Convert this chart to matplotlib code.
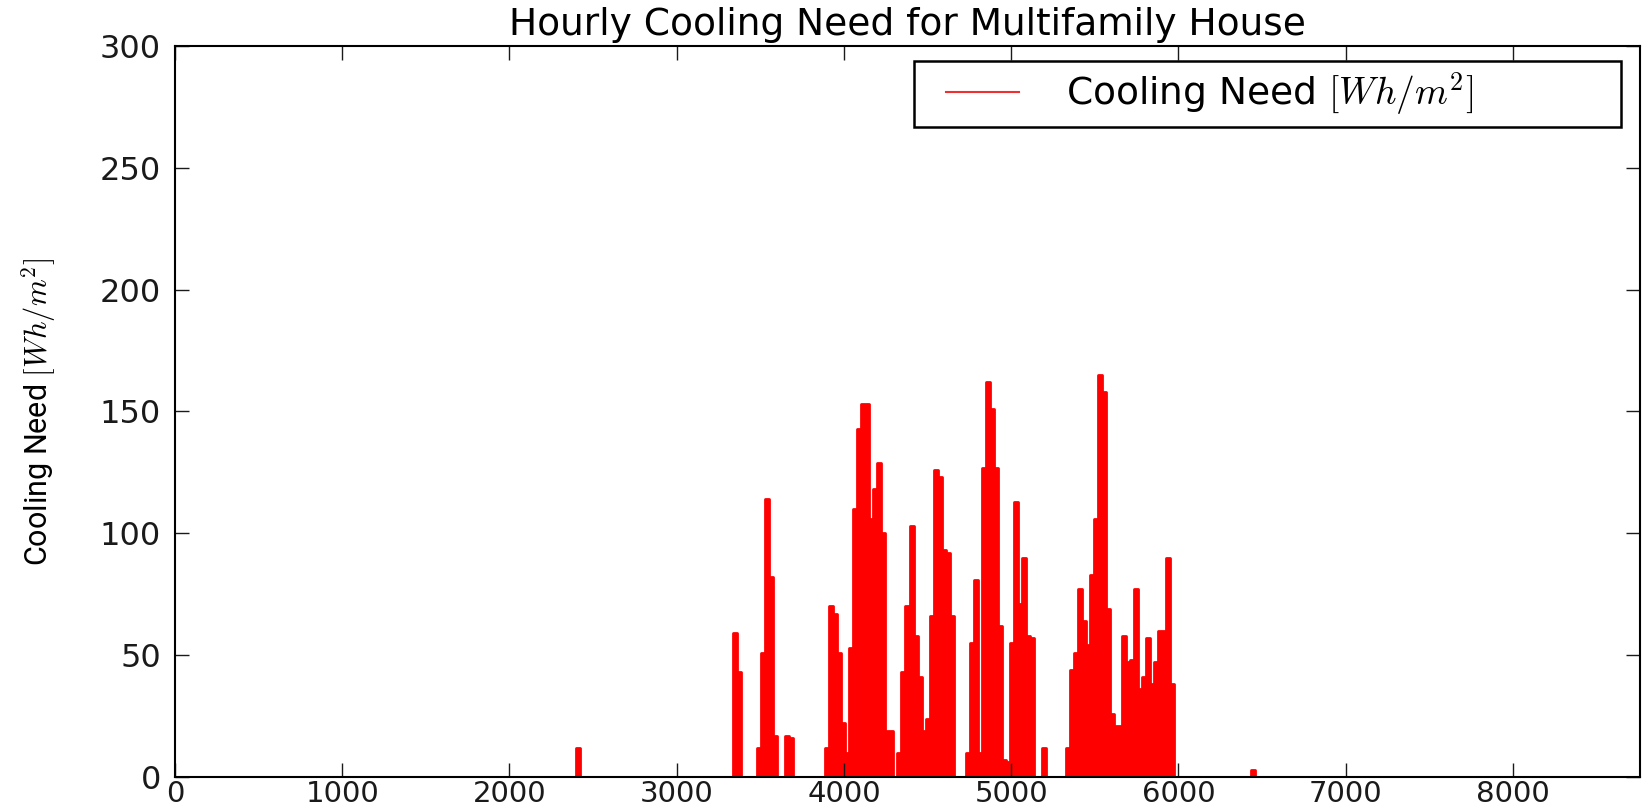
import numpy as np
import matplotlib
matplotlib.use('Agg')
import matplotlib.pyplot as plt
from matplotlib.patches import Rectangle

# daily peak cooling need (day of year -> Wh/m2)
active_days = [100,
               139, 140,
               145, 146, 147, 148, 149,
               152, 153,
               162, 163, 164, 165, 166, 167, 168, 169, 170, 171, 172, 173,
               174, 175, 176, 177, 178, 180, 181, 182, 183, 184, 185, 186,
               187, 188, 189, 190, 191, 192, 193,
               197, 198, 199, 200, 201, 202, 203, 204, 205, 206, 207, 208,
               209, 210, 211, 212, 213, 216,
               222, 223, 224, 225, 226, 227, 228, 229, 230, 231, 232, 233,
               234, 235, 236, 237, 238, 239, 240, 241, 242, 243, 244, 245,
               246, 247, 248,
               268]
peak_values = [12,
               59, 43,
               12, 51, 114, 82, 17,
               17, 16,
               12, 70, 67, 51, 22, 10, 53, 110, 143, 153, 153, 106,
               118, 129, 100, 19, 19, 10, 43, 70, 103, 58, 41, 19,
               24, 66, 126, 123, 93, 92, 66,
               10, 55, 81, 10, 127, 162, 151, 127, 62, 7, 6, 55,
               113, 71, 90, 58, 57, 12,
               12, 44, 51, 77, 64, 54, 83, 106, 165, 158, 69, 26,
               21, 21, 58, 47, 48, 77, 36, 41, 57, 38, 47, 60,
               60, 90, 38,
               3]

x_ticks = [0, 1000, 2000, 3000, 4000, 5000, 6000, 7000, 8000]
y_ticks = [0, 50, 100, 150, 200, 250, 300]

plt.rcParams['font.family'] = ['DejaVu Sans']
plt.rcParams['mathtext.fontset'] = 'cm'

daily = np.zeros(365)
daily[active_days] = peak_values
hours = np.arange(366) * 24
vals = np.append(daily, 0)

fig = plt.figure(figsize=(16.42, 8.10), dpi=100)
ax = fig.add_axes([175/1642, 1 - 777/810, 1465/1642, 731/810])

ax.fill_between(hours, vals, step='post', color='red', lw=0)
ax.step(hours, vals, where='post', color='red', lw=2,
        label=r'Cooling Need $[Wh/m^2]$')

ax.set_xlim(0, 8760)
ax.set_ylim(0, 300)
ax.set_xticks(x_ticks)
ax.set_yticks(y_ticks)
ax.tick_params(direction='in', length=10, width=1, top=True, right=True,
               colors='#1a1a1a')
ax.tick_params(axis='y', pad=10, labelsize=23)
ax.tick_params(axis='x', pad=2, labelsize=21)
for s in ax.spines.values():
    s.set_linewidth(1.5)
    s.set_color('black')

ax.set_title('Hourly Cooling Need for Multifamily House', fontsize=27, pad=8)
ax.set_ylabel(r'Cooling Need $[Wh/m^2]$', fontsize=22,
              family=['Roboto', 'DejaVu Sans'])
ax.yaxis.set_label_coords(-0.08, 0.5)

# legend box
fig.patches.append(Rectangle((914/1642, 1 - 127/810), 707/1642, 66/810,
                             transform=fig.transFigure, fill=False,
                             edgecolor='black', lw=1.8, zorder=5))
leg = ax.legend(loc='center left', bbox_to_anchor=(946/1642, 1 - 94/810),
                bbox_transform=fig.transFigure, borderaxespad=0,
                fontsize=27, frameon=False,
                handlelength=1.95, handletextpad=1.25, borderpad=0)
leg.get_lines()[0].set_linewidth(1.5)
leg.get_lines()[0].set_color('#f03030')

fig.savefig('out.png', dpi=100)
